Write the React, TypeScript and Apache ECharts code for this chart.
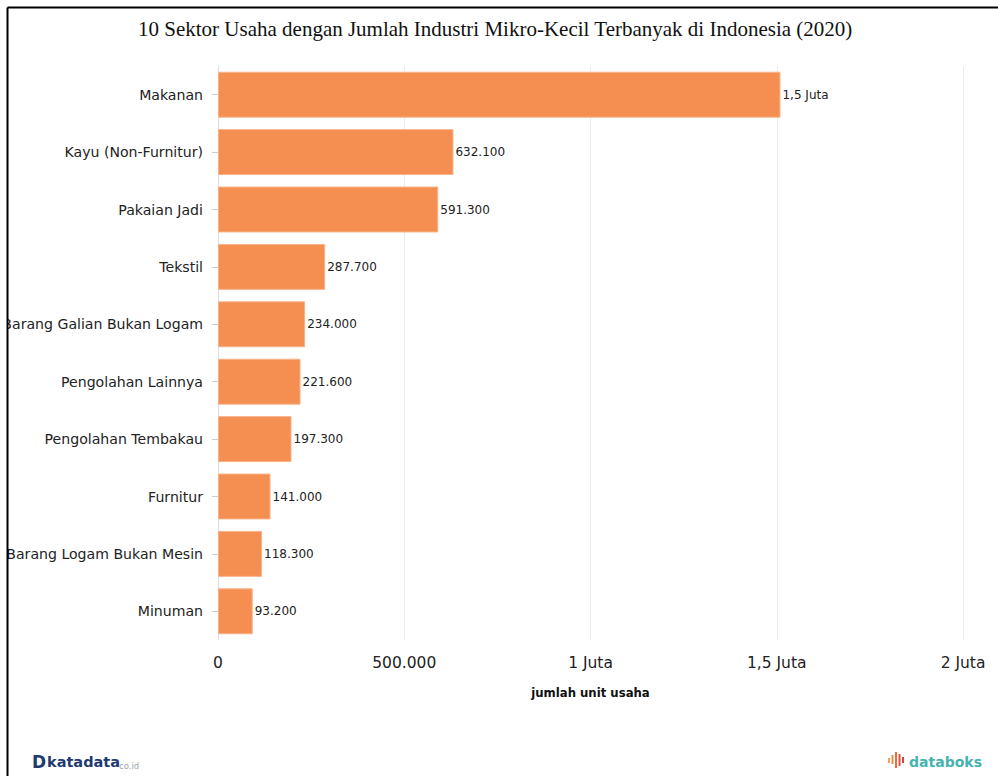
import React, { useEffect, useRef } from "react";
import * as echarts from "echarts";

const categories = [
  "Makanan",
  "Kayu (Non-Furnitur)",
  "Pakaian Jadi",
  "Tekstil",
  "Barang Galian Bukan Logam",
  "Pengolahan Lainnya",
  "Pengolahan Tembakau",
  "Furnitur",
  "Barang Logam Bukan Mesin",
  "Minuman",
];
const values = [1510000, 632100, 591300, 287700, 234000, 221600, 197300, 141000, 118300, 93200];
const titleText = "10 Sektor Usaha dengan Jumlah Industri Mikro-Kecil Terbanyak di Indonesia (2020)";
const axisName = "jumlah unit usaha";

function fmt(v: number): string {
  if (v >= 1000000) {
    const m = Math.round(v / 100000) / 10;
    return String(m).replace(".", ",") + " Juta";
  }
  return String(Math.round(v)).replace(/\B(?=(\d{3})+(?!\d))/g, ".");
}

export default function App() {
  const ref = useRef<HTMLDivElement>(null);
  useEffect(() => {
    if (!ref.current) return;
    const chart = echarts.init(ref.current, null, { renderer: "svg" });
    const iconBars = [
      { x: 888, y: 758, h: 5, c: "#F5A05A" },
      { x: 891.5, y: 755, h: 9, c: "#F28A4E" },
      { x: 895, y: 752, h: 16, c: "#EE6A45" },
      { x: 898.5, y: 754, h: 12, c: "#E9503F" },
      { x: 902, y: 757, h: 6, c: "#E4423B" },
    ];
    chart.setOption({
      animation: false,
      title: {
        text: titleText,
        left: 133,
        top: 13,
        textStyle: { fontFamily: "Liberation Serif", fontSize: 21, fontWeight: "normal", color: "#111" },
      },
      grid: { left: 218, right: 35, top: 66, bottom: 136, containLabel: false, outerBoundsMode: "none" },
      xAxis: {
        type: "value",
        min: 0,
        max: 2000000,
        interval: 500000,
        name: axisName,
        nameLocation: "middle",
        nameGap: 47,
        nameTextStyle: { fontFamily: "DejaVu Sans", fontSize: 11.7, fontWeight: "bold", color: "#111" },
        axisLine: { show: false },
        axisTick: { show: false },
        axisLabel: {
          formatter: (v: number) => fmt(v),
          fontFamily: "DejaVu Sans",
          fontSize: 15.5,
          color: "#222",
          margin: 15,
        },
        splitLine: { show: true, lineStyle: { color: "#ebebeb", width: 1 } },
      },
      yAxis: {
        type: "category",
        data: categories,
        inverse: true,
        axisLine: { show: true, lineStyle: { color: "#dddddd" } },
        axisTick: { show: true, length: 6, alignWithLabel: true, lineStyle: { color: "#cccccc" } },
        axisLabel: { fontFamily: "DejaVu Sans", fontSize: 14.1, color: "#222", margin: 15 },
      },
      series: [
        {
          type: "bar",
          data: values,
          barCategoryGap: "20%",
          itemStyle: { color: "#F58E51", borderColor: "#F8B28A", borderWidth: 1 },
          label: {
            show: true,
            position: "right",
            distance: 2,
            formatter: (p: any) => fmt(p.value),
            fontFamily: "DejaVu Sans",
            fontSize: 12,
            color: "#222",
          },
        },
      ],
      graphic: [
        { type: "rect", z: 100, shape: { x: 0, y: 0, width: 7, height: 776 }, style: { fill: "#fff" } },
        { type: "rect", z: 100, shape: { x: 0, y: 0, width: 998, height: 7 }, style: { fill: "#fff" } },
        { type: "line", z: 101, shape: { x1: 7.5, y1: 7.5, x2: 998, y2: 7.5 }, style: { stroke: "#000", lineWidth: 2 } },
        { type: "line", z: 101, shape: { x1: 7.5, y1: 7.5, x2: 7.5, y2: 776 }, style: { stroke: "#000", lineWidth: 2 } },
        {
          type: "text",
          x: 32,
          y: 762,
          style: { text: "D", fontFamily: "DejaVu Sans", fontWeight: "bold", fontSize: 17, fill: "#1E3A70", verticalAlign: "middle" },
        },
        {
          type: "text",
          x: 47,
          y: 762,
          style: { text: "katadata", fontFamily: "DejaVu Sans", fontWeight: "bold", fontSize: 14.5, fill: "#1E3A70", verticalAlign: "middle" },
        },
        {
          type: "text",
          x: 119,
          y: 766,
          style: { text: "co.id", fontFamily: "DejaVu Sans", fontSize: 8.5, fill: "#9AA5B5", verticalAlign: "middle" },
        },
        ...iconBars.map((b) => ({
          type: "rect",
          shape: { x: b.x, y: b.y, width: 2, height: b.h },
          style: { fill: b.c },
        })),
        {
          type: "text",
          x: 982,
          y: 762,
          style: { text: "databoks", fontFamily: "DejaVu Sans", fontWeight: "bold", fontSize: 14, fill: "#45B3AE", align: "right", verticalAlign: "middle" },
        },
      ],
    });
    return () => chart.dispose();
  }, []);
  return <div ref={ref} style={{ position: "fixed", left: 0, top: 0, width: 998, height: 776, background: "#fff" }} />;
}
